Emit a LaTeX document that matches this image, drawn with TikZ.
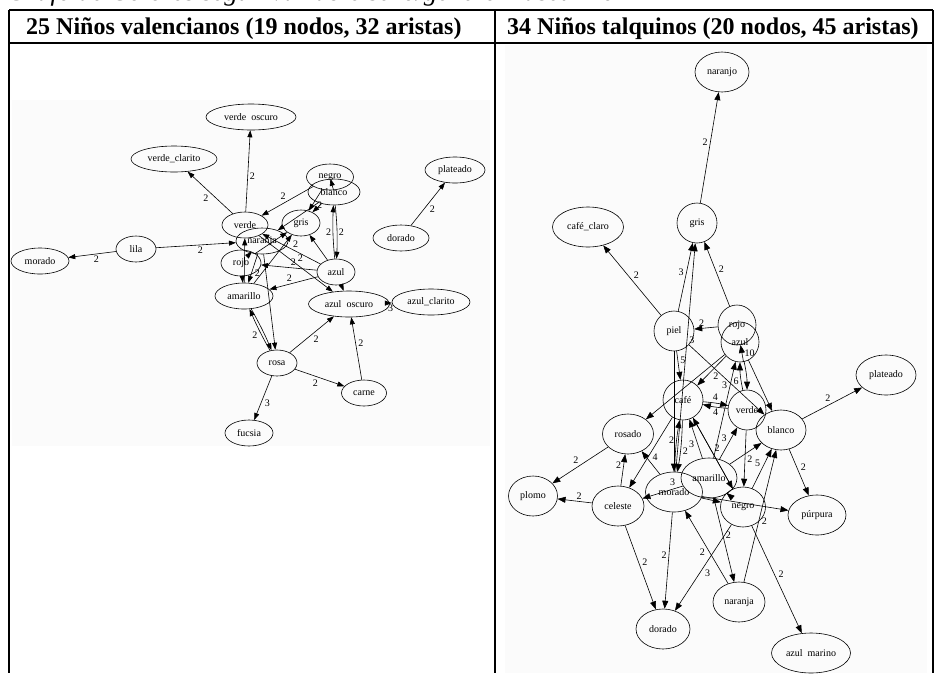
\documentclass[tikz,border=0pt]{standalone}
\usepackage{fontspec}
\setmainfont{Liberation Serif}
\usetikzlibrary{shapes.geometric,arrows.meta}
\tikzset{
  vtx/.style={draw,ellipse,inner sep=0pt,line width=0.6pt,font=\fontsize{10}{11}\selectfont},
  lv/.style={vtx,minimum height=26},
  rv/.style={vtx,minimum height=40},
  lab/.style={font=\fontsize{10}{11}\selectfont,inner sep=1.5pt,auto},
  hdr/.style={font=\fontsize{24}{28}\selectfont\bfseries,anchor=base west,inner sep=0pt},
}
\begin{document}
\begin{tikzpicture}[x=1pt,y=-1pt,>={Triangle[length=7pt,width=5pt]}]
      \useasboundingbox (0,0) rectangle (937,673);
      \fill[black!1.5] (12,100) rectangle (490,446);
      \fill[black!1.5] (505,45) rectangle (927,673);
      \draw[line width=2pt]
        (9,10) -- (933,10) (9,43) -- (933,43)
        (9,10) -- (9,673) (495,10) -- (495,673) (933,10) -- (933,673);
      \node[anchor=base west,inner sep=0pt,font=\fontsize{27}{30}\selectfont\itshape] (tit) at (7,0)
        {Grafo de Colores según variable sexo/género masculino};
      \node[hdr] (hl) at (26,34) {25 Niños valencianos (19 nodos, 32 aristas)};
      \node[hdr] (hr) at (507,34) {34 Niños talquinos (20 nodos, 45 aristas)};
      \draw
        (251,117) node[lv,minimum width=90] (vo){verde\ \ oscuro}
        (174,159) node[lv,minimum width=86] (vc){verde\_clarito}
        (330,177) node[lv,minimum width=47] (ln){negro}
        (334,192) node[lv,minimum width=52] (lb){blanco}
        (455,170) node[lv,minimum width=60] (lp){plateado}
        (245,225) node[lv,minimum width=46] (lve){verde}
        (301,223) node[lv,minimum width=38] (lg){gris}
        (262,241) node[lv,minimum width=52] (lnj){naranja}
        (136,249) node[lv,minimum width=40] (ll){lila}
        (40,261) node[lv,minimum width=58] (lm){morado}
        (401,238) node[lv,minimum width=56] (ld){dorado}
        (241,263) node[lv,minimum width=40] (lr){rojo}
        (336,272) node[lv,minimum width=38] (la){azul}
        (244,296) node[lv,minimum width=58] (lam){amarillo}
        (349,304) node[lv,minimum width=81] (lao){azul\ \ oscuro}
        (431,302) node[lv,minimum width=78] (lac){azul\_clarito}
        (277,363) node[lv,minimum width=40] (lro){rosa}
        (364,393) node[lv,minimum width=45] (lca){carne}
        (249,433) node[lv,minimum width=48] (lf){fucsia};
      \draw
        (722,72) node[rv,minimum width=54] (rnjo){naranjo}
        (697,223) node[rv,minimum width=40] (rg){gris}
        (588,227) node[rv,minimum width=71] (rcc){café\_claro}
        (674,331) node[rv,minimum width=40] (rpi){piel}
        (737,325) node[rv,minimum width=38] (rro){rojo}
        (740,342) node[rv,minimum width=38] (raz){azul}
        (886,375) node[rv,minimum width=60] (rpl){plateado}
        (683,400) node[rv,minimum width=40] (rca){café}
        (747,410) node[rv,minimum width=38] (rve){verde}
        (781,430) node[rv,minimum width=50] (rbl){blanco}
        (628,434) node[rv,minimum width=51] (rros){rosado}
        (533,496) node[rv,minimum width=49] (rplo){plomo}
        (618,506) node[rv,minimum width=52] (rce){celeste}
        (674,492) node[rv,minimum width=57] (rmo){morado}
        (709,478) node[rv,minimum width=56] (ram){amarillo}
        (743,507) node[rv,minimum width=45] (rne){negro}
        (817,515) node[rv,minimum width=58] (rpu){púrpura}
        (663,629) node[rv,minimum width=54] (rdo){dorado}
        (739,602) node[rv,minimum width=52] (rnj){naranja}
        (811,653) node[rv,minimum width=79] (ram2){azul\ \ marino};
      \begin{scope}[->,line width=0.6pt]
        \draw (lve) to node[lab,swap]{2} (vo);
        \draw (lve) to node[lab]{2} (vc);
        \draw (ll) to node[lab]{2} (lm);
        \draw (ll) to node[lab,swap]{2} (lnj);
        \draw (ld) to node[lab,swap]{2} (lp);
        \draw (ln) to node[lab,swap]{2} (lve);
        \draw (ln) to (lb);
        \draw (ln) to node[lab]{2} (lg);
        \draw (lb) to (lg);
        \draw (lb) to (lnj);
        \draw (lb) to[bend left=4] node[lab]{2} (la);
        \draw (la) to[bend left=4] node[lab]{2} (lb);
        \draw (la) to (lg);
        \draw (la) to node[lab,swap]{2} (lve);
        \draw (la) to node[lab,swap]{2} (lr);
        \draw (la) to node[lab,swap]{2} (lam);
        \draw (la) to (lao);
        \draw (lve) to node[lab]{2} (lao);
        \draw (lao) to node[lab,swap]{3} (lac);
        \draw (lro) to node[lab,swap]{2} (lao);
        \draw (lro) to node[lab,swap]{2} (lca);
        \draw (lca) to node[lab,swap]{2} (lao);
        \draw (lro) to node[lab]{3} (lf);
        \draw (lro) to[bend left=3] node[lab]{2} (lam);
        \draw (lam) to[bend left=3] (lro);
        \draw (lnj) to (lr);
        \draw (lnj) to node[lab]{2} (lam);
        \draw (lr) to (lam);
        \draw (lam) to (lve);
        \draw (lam) to (lg);
        \draw (lr) to (lg);
        \draw (lnj) to (lro);
      \end{scope}
      \begin{scope}[->,line width=0.6pt,>={Triangle[length=8pt,width=6pt]}]
        \draw (rg) to node[lab]{2} (rnjo);
        \draw (rpi) to node[lab,swap]{2} (rcc);
        \draw (rpi) to node[lab]{3} (rg);
        \draw (rmo) to node[lab,swap,pos=0.6]{3} (rg);
        \draw (rro) to node[lab,swap]{2} (rg);
        \draw (rro) to node[lab,swap]{2} (rpi);
        \draw (raz) to node[lab,swap,pos=0.2]{10} (rro);
        \draw (rpi) to (rbl);
        \draw (rpi) to node[lab]{5} (rca);
        \draw (raz) to node[lab]{2} (rca);
        \draw (raz) to (rros);
        \draw (rve) to[bend left=6] node[lab]{6} (raz);
        \draw (raz) to[bend left=6] (rve);
        \draw (raz) to (rbl);
        \draw (ram) to node[lab,pos=0.7]{3} (raz);
        \draw (rca) to[bend left=4] node[lab,pos=0.3]{4} (rve);
        \draw (rve) to[bend left=4] node[lab,pos=0.3]{4} (rca);
        \draw (rca) to (rce);
        \draw (rca) to[bend left=4] node[lab]{2} (rmo);
        \draw (rmo) to[bend left=4] node[lab]{2} (rca);
        \draw (ram) to node[lab]{3} (rca);
        \draw (rne) to node[lab,swap]{2} (rca);
        \draw (ram) to node[lab]{3} (rve);
        \draw (ram) to node[lab,swap]{2} (rbl);
        \draw (rve) to (rne);
        \draw (rne) to node[lab]{5} (rbl);
        \draw (rnj) to node[lab,swap]{2} (rbl);
        \draw (rbl) to node[lab]{2} (rpu);
        \draw (rbl) to node[lab]{2} (rpl);
        \draw (rros) to node[lab,swap]{2} (rplo);
        \draw (rce) to node[lab,swap]{2} (rplo);
        \draw (rce) to node[lab]{2} (rros);
        \draw (rmo) to node[lab,swap]{4} (rros);
        \draw (ram) to node[lab,swap,pos=0.15]{3} (rce);
        \draw (ram) to (rne);
        \draw (rmo) to (rpu);
        \draw (rmo) to (rne);
        \draw (rce) to node[lab]{2} (rdo);
        \draw (rmo) to node[lab,swap]{2} (rdo);
        \draw (rne) to node[lab]{3} (rdo);
        \draw (rnj) to node[lab]{2} (rmo);
        \draw (rne) to node[lab]{2} (ram2);
        \draw (ram) to node[lab]{2} (rnj);
        \draw (rca) to (rne);
        \draw (rpi) to (rmo);
      \end{scope}
    \end{tikzpicture}
\end{document}
